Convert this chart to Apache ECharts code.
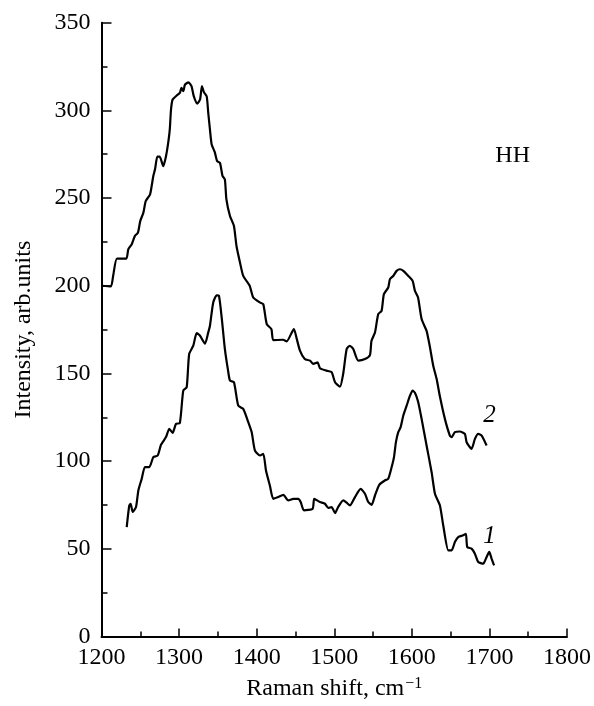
<!DOCTYPE html>
<html>
<head>
<meta charset="utf-8">
<script src="https://cdn.jsdelivr.net/npm/echarts@6/dist/echarts.min.js"></script>
<style>
html,body{margin:0;padding:0;background:#fff;}
#chart{width:594px;height:706px;}
</style>
</head>
<body>
<div id="chart"></div>
<script>
// Curve 2 (upper), [Raman shift, intensity]
const curve2 = [[1200,200],[1212,199.6],[1215,205.6],[1220,215.5],[1232,215.5],[1234.5,220.8],[1239,223.7],[1243,228.4],[1247,230.3],[1250,237],[1254,241.7],[1257,248.3],[1262.5,252],[1264.7,257],[1266.8,262.6],[1269,266.4],[1272,273.6],[1275,273.6],[1279.6,268.2],[1283,273.6],[1286,281.6],[1288,289],[1289.6,300.5],[1291.7,306.2],[1297,308.5],[1301,310],[1303,312.9],[1305.4,311],[1307.6,314.7],[1312,316],[1316,313.8],[1319,308],[1323.5,303.9],[1327,306.2],[1329.5,313.8],[1332,310.4],[1335.6,308],[1337.6,298.6],[1339.8,289],[1342,280.6],[1346,276.2],[1349,271.1],[1352.7,270.1],[1356,262.6],[1359,260.7],[1361,249.3],[1365.6,239.8],[1370.7,234.1],[1374,222.7],[1378.5,213.3],[1382.7,205.6],[1391,200],[1395.6,193.3],[1404,190.5],[1408.5,189.5],[1413,178.1],[1419,175.3],[1421.4,169],[1434,169.2],[1438.7,168.3],[1448,175.3],[1451.5,170],[1455.8,163],[1462,158.2],[1468.7,157.3],[1473,155.4],[1478.6,156.3],[1481.6,153],[1490,151.6],[1496.6,150.7],[1501,145],[1507.4,142.5],[1511.6,150],[1516,163.9],[1520,165.8],[1524.5,163.9],[1531,157.3],[1539.6,158.2],[1546,160.5],[1548,168.6],[1552.5,173.4],[1556.7,183.8],[1561,185.7],[1564,195.2],[1569.6,199],[1571.8,203.8],[1576,205.6],[1580.4,208.5],[1584.7,209.4],[1589,208.5],[1595.4,205.6],[1601,202.8],[1604,197.1],[1608,193.3],[1612.6,181],[1619,174.3],[1623,165.8],[1627.6,154.4],[1632,146.8],[1636,137.3],[1642.6,124.1],[1649,114.6],[1651.3,113.7],[1655.5,116.5],[1662,116.9],[1668.4,115.5],[1670.6,110.8],[1677,107],[1681.3,112.7],[1685.6,115.5],[1690,114.6],[1696.4,108.9]];

// Curve 1 (lower)
const curve1 = [[1232.5,62.4],[1235.8,74.7],[1237.6,75.7],[1240.2,71],[1244.5,73.8],[1247.5,83.3],[1251.8,89.9],[1256,96.6],[1261.6,96.6],[1266.8,102.3],[1272.4,103.2],[1276.7,109.3],[1283.1,113.7],[1287.4,118.4],[1291.7,116.1],[1296,121.2],[1301,121.8],[1305.4,140.2],[1309.8,142.1],[1313,161.1],[1318.3,165.8],[1322.7,173],[1327,171.5],[1333.4,167],[1337.6,173.4],[1339.8,177.2],[1344,190.5],[1348.5,194.6],[1351.4,194.3],[1354.9,182],[1359,164],[1363,152],[1365.6,145.9],[1370.7,145],[1376.3,131.6],[1382.7,129.8],[1389.2,122.2],[1393.6,116.5],[1397.8,106],[1404.3,103.2],[1408.5,104.2],[1412,94.7],[1417,86.1],[1421.4,78.5],[1427.8,79.5],[1434.3,80.8],[1440.7,77.6],[1447.2,78.5],[1453.6,78.5],[1456.7,76.7],[1461,71.9],[1472.2,72.9],[1474.2,78.5],[1481.6,76.7],[1488,75.7],[1492.3,73.3],[1496.6,73.8],[1501,70.4],[1505,73.8],[1511.6,77.6],[1516,76.3],[1520.2,74.7],[1526.7,79.5],[1534,84.2],[1539.6,81.4],[1543.8,76.7],[1548.2,75.1],[1552.5,80.4],[1558,86.5],[1565.3,89],[1569.6,89.9],[1574,96.6],[1577,102.3],[1579.5,110.8],[1582.5,116.5],[1585.6,119.4],[1589,126],[1593.3,131.6],[1597.6,137.3],[1601,140.2],[1604,139],[1608,134],[1612.6,124.1],[1619,108.9],[1625.5,93.7],[1629.8,81.4],[1636.2,74.7],[1640.5,63.3],[1647,49.1],[1651.3,49.1],[1655.5,53.9],[1659.8,56.7],[1666.2,57.7],[1669.7,58.6],[1671.4,51],[1677,50.1],[1681.3,47.2],[1685.6,42.5],[1692,41.5],[1696.4,45.4],[1699.8,48.2],[1702.8,44.4],[1706,40.6]];

// Annotations: [x, y, text]
const curveLabels = [[1700, 126, '2'], [1700, 57, '1']];
const panelLabel = [1730, 274, 'HH'];

const xTicks = {min: 1200, max: 1800, interval: 100};
const yTicks = {min: 0, max: 350, interval: 50};

const SERIF = '"Liberation Serif", "Times New Roman", serif';
const chart = echarts.init(document.getElementById('chart'), null, {renderer: 'canvas'});

const axisCommon = {
  axisLine: {show: true, onZero: false, lineStyle: {color: '#000', width: 2}},
  splitLine: {show: false},
  minorSplitLine: {show: false},
  axisLabel: {color: '#000', fontFamily: SERIF, fontSize: 24, formatter: v => String(v)}
};

chart.setOption({
  animation: false,
  backgroundColor: '#fff',
  grid: {left: 101.5, right: 27, top: 22.7, bottom: 68},
  xAxis: Object.assign({}, axisCommon, {
    type: 'value', min: xTicks.min, max: xTicks.max, interval: xTicks.interval,
    axisTick: {show: true, inside: true, length: 8, lineStyle: {color: '#000', width: 1.5}},
    minorTick: {show: true, splitNumber: 2, length: 5, lineStyle: {color: '#000', width: 1.5}},
    axisLabel: Object.assign({}, axisCommon.axisLabel, {margin: 9}),
    name: '{t|Raman shift, cm}{s|−1}',
    nameLocation: 'middle', nameGap: 39,
    nameTextStyle: {color: '#000', fontFamily: SERIF, fontSize: 24,
      rich: {t: {fontFamily: SERIF, fontSize: 24, color: '#000'},
             s: {fontFamily: SERIF, fontSize: 16, color: '#000', padding: [0, 0, 11, 1]}}}
  }),
  yAxis: Object.assign({}, axisCommon, {
    type: 'value', min: yTicks.min, max: yTicks.max, interval: yTicks.interval,
    axisTick: {show: true, inside: true, length: 10, lineStyle: {color: '#000', width: 1.5}},
    minorTick: {show: true, splitNumber: 2, length: 6, lineStyle: {color: '#000', width: 1.5}},
    axisLabel: Object.assign({}, axisCommon.axisLabel, {margin: 11}),
    name: 'Intensity, arb.units',
    nameLocation: 'middle', nameGap: 66, nameRotate: 90,
    nameTextStyle: {color: '#000', fontFamily: SERIF, fontSize: 24}
  }),
  series: [
    {
      type: 'line', data: curve2, showSymbol: false, symbol: 'none', smooth: 0.2,
      lineStyle: {color: '#000', width: 2.2},
      markPoint: {
        symbol: 'circle', symbolSize: 0, silent: true,
        label: {show: true, position: 'inside', color: '#000', fontFamily: SERIF, fontSize: 25},
        data: [
          {coord: [curveLabels[0][0], curveLabels[0][1]], value: curveLabels[0][2],
            label: {formatter: curveLabels[0][2], fontStyle: 'italic'}},
          {coord: [curveLabels[1][0], curveLabels[1][1]], value: curveLabels[1][2],
            label: {formatter: curveLabels[1][2], fontStyle: 'italic'}},
          {coord: [panelLabel[0], panelLabel[1]], value: panelLabel[2],
            label: {formatter: panelLabel[2], fontSize: 24}}
        ]
      }
    },
    {
      type: 'line', data: curve1, showSymbol: false, symbol: 'none', smooth: 0.2,
      lineStyle: {color: '#000', width: 2.2}
    }
  ]
});
</script>
</body>
</html>
